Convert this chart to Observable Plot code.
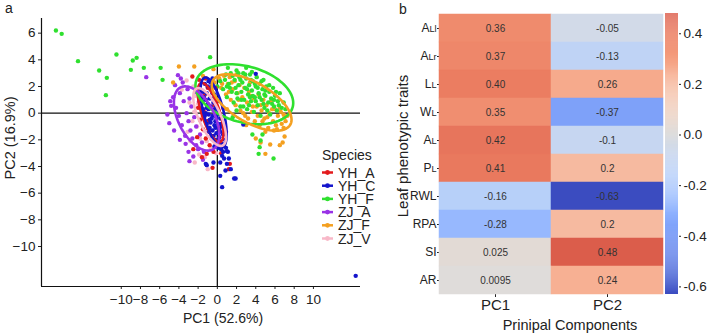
<!DOCTYPE html>
<html>
<head>
<meta charset="utf-8">
<script src="https://cdn.jsdelivr.net/npm/d3@7"></script>
<script src="https://cdn.jsdelivr.net/npm/@observablehq/plot@0.6"></script>
<style>
  body { margin: 0; background: #fff; font-family: "Liberation Sans", Arial, sans-serif; }
  #fig { position: relative; width: 709px; height: 335px; overflow: hidden; background: #fff; }
  #fig > svg { position: absolute; top: 0; }
</style>
</head>
<body>
<div id="fig"></div>
<script>
// ---------- Panel a: PCA scores ----------
const species = ["YH_A", "YH_C", "YH_F", "ZJ_A", "ZJ_F", "ZJ_V"];
const speciesColors = ["#e31a1c", "#1414cc", "#2fe02f", "#9933e6", "#f4a020", "#f8b8c8"];
const drawOrder = ["ZJ_V", "ZJ_A", "ZJ_F", "YH_F", "YH_A", "YH_C"];

const scoresYH_A = [[-2.6,2.75],[-1.9,2.5],[-1.2,2.6],[-1.0,1.9],[-1.7,1.2],[-2.0,0.4],[-1.8,-0.5],[-1.5,-1.2],[-1.2,-1.9],[-0.8,-2.4],[-1.1,-3.05],[1.2,-4.2],[-2.5,-2.7],[-0.4,-2.9],[0.4,-3.0],[-1.6,-3.3],[0.9,-1.4],[0.6,0.4],[-0.2,1.9],[-1.4,0.1],[-0.6,-1.7],[0.2,-2.4],[-2.1,-1.8],[-1.0,-0.6],[1.3,-3.8],[-0.5,-4.1],[-1.3,1.4],[-0.9,-1.2],[0.3,-1.0],[-0.3,0.6]];
const scoresYH_C = [[-1.3,2.2],[-0.9,2.4],[-0.6,2.0],[-1.5,1.6],[-1.1,1.5],[-0.7,1.8],[-0.3,1.4],[-1.6,0.9],[-1.2,1.0],[-0.8,1.1],[-0.4,0.8],[0.0,0.9],[-1.5,0.3],[-1.1,0.4],[-0.7,0.5],[-0.3,0.3],[0.1,0.2],[-1.3,-0.2],[-0.9,-0.1],[-0.5,-0.2],[-0.1,-0.3],[0.3,-0.4],[-1.1,-0.8],[-0.7,-0.7],[-0.3,-0.9],[0.1,-0.8],[0.5,-1.0],[-0.9,-1.4],[-0.5,-1.3],[-0.1,-1.5],[0.3,-1.4],[0.6,-1.6],[-0.6,-1.9],[-0.2,-2.0],[0.2,-2.1],[0.5,-2.3],[0.8,-2.0],[-0.3,-2.5],[0.1,-2.6],[0.9,-2.6],[-1.0,0.7],[-0.5,1.5],[-0.2,-0.6],[-0.8,-1.1],[0.2,-1.2],[-0.5,2.6],[-1.0,2.0],[-1.4,1.2],[-0.9,0.3],[-0.6,-0.4],[-0.2,-1.1],[0.2,-1.8],[0.4,-2.7],[-0.4,1.1],[-1.2,0.0],[-0.8,-0.5],[0.0,-0.1],[0.4,-0.8],[-0.4,-1.7],[0.6,-2.9],[-0.7,2.3],[-0.1,0.5],[1.0,-2.85],[0.5,-3.2],[-0.4,-3.7],[-1.1,-3.9],[1.0,-3.8],[0.85,-4.3],[1.4,-4.2],[0.3,-4.7],[1.75,-4.9],[0.5,-5.55],[1.9,-4.9],[-1.2,-3.8],[0.3,-3.7],[1.1,-2.9],[1.2,-3.4],[0.7,-3.4],[4.0,2.95],[2.7,-0.85],[14.4,-12.2]];
const scoresYH_F = [[-16.8,6.2],[-16.2,5.95],[-14.5,3.9],[-12.3,3.2],[-11.5,2.65],[-11.6,1.35],[-10.5,4.4],[-9.0,3.25],[-8.8,3.95],[-8.4,4.15],[-7.65,3.4],[-5.9,3.4],[-5.7,2.5],[-0.75,4.2],[3.65,-1.6],[4.3,-3.05],[4.4,-2.55],[5.85,-3.4],[4.5,-2.05],[4.7,-1.6],[0.3,2.4],[0.6,1.8],[0.9,2.9],[1.0,1.2],[1.2,2.2],[1.4,3.0],[1.5,1.6],[1.7,0.8],[1.8,2.5],[1.9,1.9],[2.0,3.2],[2.1,1.1],[2.2,2.1],[2.3,2.7],[2.4,0.5],[2.5,1.6],[2.6,2.3],[2.7,3.0],[2.8,1.0],[2.9,1.9],[3.0,2.6],[3.1,0.3],[3.2,1.4],[3.3,2.1],[3.4,2.9],[3.5,0.9],[3.6,1.7],[3.7,2.4],[3.8,0.1],[3.9,1.2],[4.0,2.0],[4.1,2.7],[4.2,0.6],[4.3,1.5],[4.4,2.2],[4.5,-0.2],[4.6,1.0],[4.7,1.8],[4.8,2.5],[4.9,0.4],[5.0,1.3],[5.1,2.0],[5.3,0.8],[5.4,1.6],[5.5,-0.1],[5.6,1.1],[5.8,1.9],[5.9,0.5],[6.0,1.3],[6.2,0.2],[6.3,0.9],[6.5,1.5],[6.7,0.4],[6.9,0.8],[7.1,0.3],[0.0,2.0],[1.1,3.4],[2.0,0.2],[3.0,3.4],[1.6,-0.3],[0.8,2.5],[1.3,1.9],[1.6,2.8],[2.0,1.5],[2.4,2.5],[2.5,1.0],[2.9,2.9],[3.1,1.8],[3.3,0.6],[3.5,2.5],[3.7,1.3],[3.9,2.2],[4.0,0.9],[4.2,1.9],[4.4,1.2],[4.6,2.4],[4.8,0.7],[5.0,1.7],[5.2,0.2],[5.4,2.1],[5.7,0.7],[6.1,1.6],[6.4,0.6],[2.2,3.0],[1.0,2.0],[3.6,3.1],[4.9,1.4],[5.9,1.0],[2.7,0.5],[3.4,1.2]];
const scoresZJ_A = [[-4.8,0.55],[-5.0,-0.75],[-3.7,-0.9],[-3.35,-1.7],[-2.5,-3.25],[-2.2,-2.4],[-4.1,2.85],[-3.8,2.6],[-7.4,2.7],[-4.6,1.2],[-4.3,0.4],[-4.0,-0.2],[-3.9,1.5],[-3.5,0.9],[-3.2,0.0],[-3.0,-0.6],[-2.8,-1.3],[-2.6,-1.9],[-3.3,-2.3],[-2.0,-2.7],[-1.6,-2.2],[-1.4,-2.9],[-3.1,1.8],[-2.9,1.1],[-2.7,0.5],[-2.4,-0.3],[-2.2,-1.0],[-1.8,-1.6],[-5.2,-0.1],[-4.5,-1.3],[-3.9,-2.0],[-3.0,-2.9],[-1.5,-3.5],[-4.4,2.1],[-3.6,2.3],[-2.3,1.6],[-1.9,0.9],[-1.2,-0.6],[-2.9,-3.6],[-4.9,0.9]];
const scoresZJ_F = [[-0.3,2.3],[0.2,2.6],[0.4,1.9],[0.7,2.8],[0.9,1.4],[1.1,2.2],[1.3,2.7],[1.4,1.0],[1.6,1.8],[1.8,2.4],[1.9,0.6],[2.1,1.5],[2.3,2.1],[2.4,0.2],[2.6,1.2],[2.8,1.9],[2.9,-0.2],[3.1,0.8],[3.3,1.6],[3.4,2.3],[3.6,0.1],[3.8,1.1],[3.9,-0.6],[4.1,0.5],[4.3,1.4],[4.4,-0.9],[4.6,0.2],[4.8,1.0],[4.9,-0.4],[5.1,0.6],[5.3,-1.1],[5.4,0.0],[5.6,0.9],[5.8,-0.6],[6.0,0.3],[6.2,-1.2],[6.3,-0.2],[6.5,0.4],[6.7,-0.8],[6.9,-0.1],[7.1,-0.6],[7.3,-0.2],[5.0,-1.4],[3.0,-0.9],[1.0,0.3],[2.0,2.9],[0.5,2.2],[1.5,2.3],[2.2,1.0],[2.7,0.0],[3.2,-0.4],[3.7,0.5],[4.2,-0.2],[4.7,-0.6],[5.2,-0.3],[5.7,0.3],[6.1,-0.9],[6.6,0.1],[7.0,-0.3],[4.5,0.6],[3.5,1.3],[1.2,1.6],[5.9,-1.3],[6.9,-1.1],[-0.4,3.3],[-4.0,3.5],[-2.4,3.5],[-1.5,2.8],[-4.6,2.3],[7.0,-1.75],[6.5,-2.4],[5.5,-2.35],[5.0,-3.05],[4.5,-2.2],[6.8,-2.2],[4.0,-1.9]];
const scoresZJ_V = [[-2.35,-3.7],[-1.0,-4.2],[-1.9,-3.1],[-3.7,1.75],[-3.2,2.45],[-2.3,1.3],[-2.0,0.7],[-2.4,0.1],[-1.7,-0.4],[-2.1,-1.0],[-1.4,-1.3],[-1.8,-1.9],[-1.1,-2.1],[-0.7,-2.6],[-1.5,0.9],[-1.2,0.2],[-0.8,-0.8],[-0.4,-1.7],[-0.2,-2.4],[-2.6,-0.6],[-2.8,-2.1],[-1.6,1.7],[-0.6,0.6],[-2.9,0.8],[-3.1,-1.4],[-1.3,-3.3],[-0.1,-3.0],[-2.5,2.0]];

// Group ellipses: centre plus two conjugate semi-axis vectors, in PC units
const ellipseCx = [-0.70, -0.39, 2.81, -2.16, 3.57, -0.80];
const ellipseCy = [0.05, 0.05, 1.42, -0.40, 0.80, -0.29];
const ellipseUx = [1.00, 0.91, 5.03, 1.67, 4.02, 1.35];
const ellipseUy = [-2.21, -2.62, -0.97, -2.33, -1.67, -2.14];
const ellipseVx = [-0.89, -1.01, -0.76, -1.67, -1.04, -1.04];
const ellipseVy = [-0.21, -0.18, -2.03, -0.62, -1.30, -0.34];

const xTicks = [-10, -8, -6, -4, -2, 0, 2, 4, 6, 8, 10];
const yTicks = [6, 4, 2, 0, -2, -4, -6, -8, -10];
const xDom = [-18.3, 14.9];
const yDom = [-13.0, 7.1];

const scoreSets = {YH_A: scoresYH_A, YH_C: scoresYH_C, YH_F: scoresYH_F, ZJ_A: scoresZJ_A, ZJ_F: scoresZJ_F, ZJ_V: scoresZJ_V};
const points = drawOrder.flatMap(s => scoreSets[s].map(([x, y]) => ({species: s, x, y})));

const ellipsePaths = species.flatMap((s, i) =>
  d3.range(0, 97).map(k => {
    const t = (k / 96) * 2 * Math.PI;
    return {
      species: s,
      x: ellipseCx[i] + ellipseUx[i] * Math.cos(t) + ellipseVx[i] * Math.sin(t),
      y: ellipseCy[i] + ellipseUy[i] * Math.cos(t) + ellipseVy[i] * Math.sin(t)
    };
  })
);

const fontFamily = '"Liberation Sans", Arial, sans-serif';

const pca = Plot.plot({
  width: 390, height: 335,
  marginLeft: 41, marginRight: 30, marginTop: 18, marginBottom: 49,
  style: {fontFamily, fontSize: "13.5px", color: "#222", background: "transparent", overflow: "visible"},
  x: {domain: xDom, ticks: xTicks, tickSize: 3, tickPadding: 5, label: null},
  y: {domain: yDom, ticks: yTicks, tickSize: 3, tickPadding: 3, label: null},
  color: {domain: species, range: speciesColors},
  marks: [
    Plot.ruleX([0], {stroke: "#111", strokeWidth: 1.3}),
    Plot.ruleY([0], {stroke: "#111", strokeWidth: 1.3}),
    Plot.dot(points, {x: "x", y: "y", fill: "species", r: 2.2, stroke: null}),
    Plot.line(ellipsePaths, {x: "x", y: "y", z: "species", stroke: "species", strokeWidth: 2.6, curve: "linear"}),
    Plot.ruleX([xDom[0]], {stroke: "#111", strokeWidth: 1.2}),
    Plot.ruleY([yDom[0]], {stroke: "#111", strokeWidth: 1.2})
  ]
});
pca.style.left = "0px";
document.getElementById("fig").appendChild(pca);

const ps = d3.select(pca);
ps.append("text").attr("x", 5).attr("y", 13).attr("text-anchor", "start")
  .attr("font-size", 14).attr("fill", "#222").text("a");
ps.append("text").attr("x", 223).attr("y", 323).attr("text-anchor", "middle")
  .attr("font-size", 14).attr("fill", "#222").text("PC1 (52.6%)");
ps.append("text").attr("transform", "translate(15,138) rotate(-90)").attr("text-anchor", "middle")
  .attr("font-size", 14.5).attr("fill", "#222").text("PC2 (16.9%)");

// Species legend
const lg = ps.append("g").attr("font-size", 14).attr("fill", "#222").attr("text-anchor", "start");
lg.append("text").attr("x", 322).attr("y", 160).text("Species");
species.forEach((s, i) => {
  const cy = 172.5 + i * 13.2;
  lg.append("line").attr("x1", 322).attr("x2", 333).attr("y1", cy).attr("y2", cy)
    .attr("stroke", speciesColors[i]).attr("stroke-width", 2.5);
  lg.append("circle").attr("cx", 327.5).attr("cy", cy).attr("r", 2.4).attr("fill", speciesColors[i]);
  lg.append("text").attr("x", 338).attr("y", cy + 5).text(s);
});

// ---------- Panel b: loadings heatmap ----------
const traits = ["ALl", "ALr", "LL", "WL", "AL", "PL", "RWL", "RPA", "SI", "AR"];
const smallTail = ["ALl", "ALr", "LL", "WL", "AL", "PL"];
const components = ["PC1", "PC2"];
const loadingsPC1 = ["0.36", "0.37", "0.40", "0.35", "0.42", "0.41", "-0.16", "-0.28", "0.025", "0.0095"];
const loadingsPC2 = ["-0.05", "-0.13", "0.26", "-0.37", "-0.1", "0.2", "-0.63", "0.2", "0.48", "0.24"];
const barTicks = [0.4, 0.2, 0.0, -0.2, -0.4, -0.6];

// coolwarm, re-centred on zero over the data range
const coolwarmT = [0, 0.0625, 0.125, 0.1875, 0.25, 0.3125, 0.375, 0.4375, 0.5, 0.5625, 0.625, 0.6875, 0.75, 0.8125, 0.875, 0.9375, 1];
const coolwarmHex = ["#3b4cc0", "#4d68d7", "#6282ea", "#779af7", "#8db0fe", "#a3c2fe", "#b8d0f9", "#cbd8ee", "#dddddd",
  "#ecd3c5", "#f5c4ad", "#f7b194", "#f49a7b", "#ec7f63", "#dd604d", "#cb3e38", "#b40426"];

const cells = traits.flatMap((t, i) => [
  {trait: t, pc: "PC1", label: loadingsPC1[i], value: +loadingsPC1[i]},
  {trait: t, pc: "PC2", label: loadingsPC2[i], value: +loadingsPC2[i]}
]);
const vMin = d3.min(cells, d => d.value), vMax = d3.max(cells, d => d.value);
const vRange = Math.max(Math.abs(vMin), Math.abs(vMax));
const colorScale = {type: "linear", domain: coolwarmT.map(t => -vRange + t * 2 * vRange), range: coolwarmHex, clamp: true};

const hm = Plot.plot({
  width: 349, height: 335,
  marginLeft: 79, marginRight: 46, marginTop: 13, marginBottom: 41,
  style: {fontFamily, fontSize: "12px", color: "#222", background: "transparent", overflow: "visible"},
  x: {domain: components, padding: 0, tickSize: 3, tickPadding: 2, label: null},
  y: {domain: traits, padding: 0, tickSize: 2, tickPadding: 1, label: null},
  color: colorScale,
  marks: [
    Plot.cell(cells, {x: "pc", y: "trait", fill: "value", stroke: "value", strokeWidth: 0.5, inset: 0}),
    Plot.text(cells, {x: "pc", y: "trait", text: "label", fontSize: 10, fill: "#333"})
  ]
});
hm.style.left = "360px";
document.getElementById("fig").appendChild(hm);

const hs = d3.select(hm);
hs.selectAll('g[aria-label="y-axis tick label"] text').each(function () {
  const el = d3.select(this);
  const s = el.text();
  if (!smallTail.includes(s)) return;
  el.text(null);
  el.append("tspan").text(s[0]);
  el.append("tspan").attr("font-size", "0.76em").text(s.slice(1));
});
hs.select('g[aria-label="x-axis tick label"]').attr("font-size", 15);
hs.append("text").attr("x", 39).attr("y", 14).attr("text-anchor", "start")
  .attr("font-size", 14).attr("fill", "#222").text("b");
hs.append("text").attr("transform", "translate(48,146) rotate(-90)").attr("text-anchor", "middle")
  .attr("font-size", 15).attr("fill", "#222").text("Leaf phenotypic traits");
hs.append("text").attr("x", 210).attr("y", 330).attr("text-anchor", "middle")
  .attr("font-size", 14.5).attr("fill", "#222").text("Prinipal Components");

// Colour bar
const ramp = d3.range(vMin, vMax, 0.004);
const bar = Plot.plot({
  width: 44, height: 335,
  marginLeft: 0, marginRight: 31, marginTop: 13, marginBottom: 41,
  style: {fontFamily, fontSize: "13.5px", color: "#222", background: "transparent", overflow: "visible"},
  x: {domain: [0, 1], axis: null},
  y: {domain: [vMin, vMax], ticks: barTicks, tickFormat: d => d.toFixed(1), axis: "right", tickSize: 2, tickPadding: 3, label: null},
  color: colorScale,
  marks: [
    Plot.rect(ramp, {x1: 0, x2: 1, y1: d => d, y2: d => Math.min(d + 0.0045, vMax), fill: d => d})
  ]
});
bar.style.left = "665px";
document.getElementById("fig").appendChild(bar);
</script>
</body>
</html>
